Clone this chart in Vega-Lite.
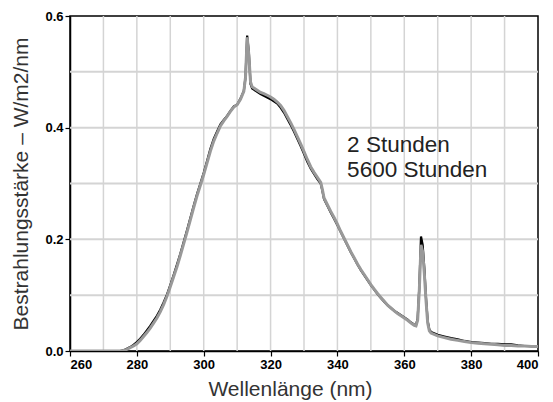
{
  "$schema": "https://vega.github.io/schema/vega-lite/v6.json",
  "width": 468,
  "height": 335,
  "autosize": {"type": "none"},
  "padding": {"left": 70, "top": 16, "right": 15, "bottom": 51},
  "background": "white",
  "config": {
    "view": {"stroke": "black", "strokeWidth": 1.5},
    "axis": {
      "grid": false,
      "labelFont": "Liberation Sans",
      "labelFontWeight": "bold",
      "labelFontSize": 13,
      "labelColor": "black",
      "titleFont": "Liberation Sans",
      "titleFontWeight": "normal",
      "titleFontSize": 21,
      "titleColor": "#333333",
      "domainColor": "black",
      "domainWidth": 1.5,
      "tickColor": "black",
      "tickSize": 5,
      "tickWidth": 1.2
    }
  },
  "datasets": {
    "gridx": [
      {"wl": 270}, {"wl": 280}, {"wl": 290}, {"wl": 300}, {"wl": 310}, {"wl": 320}, {"wl": 330},
      {"wl": 340}, {"wl": 350}, {"wl": 360}, {"wl": 370}, {"wl": 380}, {"wl": 390}
    ],
    "gridy": [
      {"lvl": 0.1}, {"lvl": 0.2}, {"lvl": 0.3}, {"lvl": 0.4}, {"lvl": 0.5}
    ],
    "spec": [
      {"wl": 260, "h2": 0, "h5600": 0},
      {"wl": 265, "h2": 0, "h5600": 0},
      {"wl": 270, "h2": 0, "h5600": 0},
      {"wl": 275, "h2": 0, "h5600": 0},
      {"wl": 276, "h2": 0.001, "h5600": 0.001},
      {"wl": 277, "h2": 0.004, "h5600": 0.003},
      {"wl": 278, "h2": 0.007, "h5600": 0.006},
      {"wl": 279, "h2": 0.011, "h5600": 0.009},
      {"wl": 280, "h2": 0.016, "h5600": 0.013},
      {"wl": 281, "h2": 0.022, "h5600": 0.019},
      {"wl": 282, "h2": 0.029, "h5600": 0.026},
      {"wl": 283, "h2": 0.037, "h5600": 0.033},
      {"wl": 284, "h2": 0.045, "h5600": 0.041},
      {"wl": 285, "h2": 0.054, "h5600": 0.05},
      {"wl": 286, "h2": 0.063, "h5600": 0.059},
      {"wl": 287, "h2": 0.074, "h5600": 0.07},
      {"wl": 288, "h2": 0.087, "h5600": 0.083},
      {"wl": 289, "h2": 0.101, "h5600": 0.098},
      {"wl": 290, "h2": 0.118, "h5600": 0.115},
      {"wl": 291, "h2": 0.136, "h5600": 0.133},
      {"wl": 292, "h2": 0.155, "h5600": 0.151},
      {"wl": 293, "h2": 0.174, "h5600": 0.171},
      {"wl": 294, "h2": 0.195, "h5600": 0.192},
      {"wl": 295, "h2": 0.216, "h5600": 0.213},
      {"wl": 296, "h2": 0.238, "h5600": 0.235},
      {"wl": 297, "h2": 0.26, "h5600": 0.257},
      {"wl": 298, "h2": 0.281, "h5600": 0.278},
      {"wl": 299, "h2": 0.3, "h5600": 0.297},
      {"wl": 300, "h2": 0.319, "h5600": 0.316},
      {"wl": 301, "h2": 0.34, "h5600": 0.337},
      {"wl": 302, "h2": 0.362, "h5600": 0.358},
      {"wl": 303, "h2": 0.38, "h5600": 0.376},
      {"wl": 304, "h2": 0.393, "h5600": 0.39},
      {"wl": 305, "h2": 0.406, "h5600": 0.403},
      {"wl": 306, "h2": 0.414, "h5600": 0.412},
      {"wl": 307, "h2": 0.421, "h5600": 0.42},
      {"wl": 308, "h2": 0.43, "h5600": 0.429},
      {"wl": 309, "h2": 0.438, "h5600": 0.437},
      {"wl": 310, "h2": 0.441, "h5600": 0.441},
      {"wl": 311, "h2": 0.452, "h5600": 0.451},
      {"wl": 312, "h2": 0.466, "h5600": 0.465},
      {"wl": 312.5, "h2": 0.49, "h5600": 0.49},
      {"wl": 313, "h2": 0.565, "h5600": 0.562},
      {"wl": 313.5, "h2": 0.535, "h5600": 0.53},
      {"wl": 314, "h2": 0.478, "h5600": 0.482},
      {"wl": 314.5, "h2": 0.47, "h5600": 0.473},
      {"wl": 315, "h2": 0.468, "h5600": 0.471},
      {"wl": 316, "h2": 0.464, "h5600": 0.467},
      {"wl": 317, "h2": 0.46, "h5600": 0.463},
      {"wl": 318, "h2": 0.457, "h5600": 0.461},
      {"wl": 319, "h2": 0.454, "h5600": 0.458},
      {"wl": 320, "h2": 0.451, "h5600": 0.455},
      {"wl": 321, "h2": 0.447, "h5600": 0.451},
      {"wl": 322, "h2": 0.443, "h5600": 0.446},
      {"wl": 323, "h2": 0.436, "h5600": 0.44},
      {"wl": 324, "h2": 0.427, "h5600": 0.431},
      {"wl": 325, "h2": 0.416, "h5600": 0.42},
      {"wl": 326, "h2": 0.405, "h5600": 0.409},
      {"wl": 327, "h2": 0.393, "h5600": 0.397},
      {"wl": 328, "h2": 0.38, "h5600": 0.384},
      {"wl": 329, "h2": 0.367, "h5600": 0.371},
      {"wl": 330, "h2": 0.353, "h5600": 0.357},
      {"wl": 331, "h2": 0.339, "h5600": 0.343},
      {"wl": 332, "h2": 0.327, "h5600": 0.33},
      {"wl": 333, "h2": 0.317, "h5600": 0.32},
      {"wl": 334, "h2": 0.308, "h5600": 0.311},
      {"wl": 335, "h2": 0.3, "h5600": 0.302},
      {"wl": 335.5, "h2": 0.287, "h5600": 0.289},
      {"wl": 336, "h2": 0.272, "h5600": 0.274},
      {"wl": 337, "h2": 0.26, "h5600": 0.262},
      {"wl": 338, "h2": 0.248, "h5600": 0.25},
      {"wl": 339, "h2": 0.237, "h5600": 0.239},
      {"wl": 340, "h2": 0.225, "h5600": 0.227},
      {"wl": 341, "h2": 0.213, "h5600": 0.214},
      {"wl": 342, "h2": 0.201, "h5600": 0.202},
      {"wl": 343, "h2": 0.189, "h5600": 0.19},
      {"wl": 344, "h2": 0.177, "h5600": 0.178},
      {"wl": 345, "h2": 0.166, "h5600": 0.167},
      {"wl": 346, "h2": 0.155, "h5600": 0.156},
      {"wl": 347, "h2": 0.145, "h5600": 0.146},
      {"wl": 348, "h2": 0.136, "h5600": 0.137},
      {"wl": 349, "h2": 0.127, "h5600": 0.128},
      {"wl": 350, "h2": 0.118, "h5600": 0.119},
      {"wl": 351, "h2": 0.11, "h5600": 0.111},
      {"wl": 352, "h2": 0.102, "h5600": 0.103},
      {"wl": 353, "h2": 0.095, "h5600": 0.096},
      {"wl": 354, "h2": 0.088, "h5600": 0.089},
      {"wl": 355, "h2": 0.082, "h5600": 0.082},
      {"wl": 356, "h2": 0.077, "h5600": 0.077},
      {"wl": 357, "h2": 0.072, "h5600": 0.072},
      {"wl": 358, "h2": 0.068, "h5600": 0.067},
      {"wl": 359, "h2": 0.064, "h5600": 0.063},
      {"wl": 360, "h2": 0.06, "h5600": 0.059},
      {"wl": 361, "h2": 0.056, "h5600": 0.055},
      {"wl": 362, "h2": 0.051, "h5600": 0.05},
      {"wl": 363, "h2": 0.047, "h5600": 0.046},
      {"wl": 363.5, "h2": 0.046, "h5600": 0.045},
      {"wl": 364, "h2": 0.058, "h5600": 0.055},
      {"wl": 364.5, "h2": 0.115, "h5600": 0.11},
      {"wl": 365, "h2": 0.205, "h5600": 0.19},
      {"wl": 365.5, "h2": 0.19, "h5600": 0.178},
      {"wl": 366, "h2": 0.148, "h5600": 0.138},
      {"wl": 366.5, "h2": 0.095, "h5600": 0.09},
      {"wl": 367, "h2": 0.054, "h5600": 0.05},
      {"wl": 367.5, "h2": 0.038, "h5600": 0.036},
      {"wl": 368, "h2": 0.034, "h5600": 0.032},
      {"wl": 370, "h2": 0.029, "h5600": 0.027},
      {"wl": 372, "h2": 0.026, "h5600": 0.024},
      {"wl": 374, "h2": 0.023, "h5600": 0.021},
      {"wl": 376, "h2": 0.021, "h5600": 0.019},
      {"wl": 378, "h2": 0.018, "h5600": 0.017},
      {"wl": 380, "h2": 0.016, "h5600": 0.015},
      {"wl": 382, "h2": 0.015, "h5600": 0.014},
      {"wl": 384, "h2": 0.014, "h5600": 0.013},
      {"wl": 386, "h2": 0.013, "h5600": 0.012},
      {"wl": 388, "h2": 0.013, "h5600": 0.011},
      {"wl": 390, "h2": 0.012, "h5600": 0.01},
      {"wl": 392, "h2": 0.012, "h5600": 0.01},
      {"wl": 394, "h2": 0.01, "h5600": 0.009},
      {"wl": 396, "h2": 0.009, "h5600": 0.009},
      {"wl": 398, "h2": 0.009, "h5600": 0.008},
      {"wl": 400, "h2": 0.009, "h5600": 0.008}
    ],
    "labels": [
      {"label": "2 Stunden", "wl": 342.9, "val": 0.357},
      {"label": "5600 Stunden", "wl": 342.9, "val": 0.312}
    ]
  },
  "layer": [
    {
      "data": {"name": "gridx"},
      "mark": {"type": "rule", "color": "#d4d4d4", "strokeWidth": 1.5},
      "encoding": {
        "x": {"field": "wl", "type": "quantitative"}
      }
    },
    {
      "data": {"name": "gridy"},
      "mark": {"type": "rule", "color": "#d4d4d4", "strokeWidth": 2},
      "encoding": {
        "y": {"field": "lvl", "type": "quantitative"},
        "x": {"datum": 260, "type": "quantitative"},
        "x2": {"datum": 400}
      }
    },
    {
      "data": {"name": "spec"},
      "mark": {"type": "line", "color": "black", "strokeWidth": 2.2, "clip": true},
      "encoding": {
        "x": {
          "field": "wl",
          "type": "quantitative",
          "scale": {"domain": [260, 400], "nice": false, "zero": false},
          "axis": {
            "title": "Wellenlänge (nm)",
            "values": [260, 280, 300, 320, 340, 360, 380, 400],
            "labelPadding": 2,
            "titlePadding": 7,
            "titleX": 220
          }
        },
        "y": {
          "field": "h2",
          "type": "quantitative",
          "scale": {"domain": [0, 0.6], "nice": false},
          "axis": {
            "title": "Bestrahlungsstärke – W/m2/nm",
            "values": [0, 0.2, 0.4, 0.6],
            "format": ".1f",
            "labelPadding": 2,
            "titlePadding": 13
          }
        }
      }
    },
    {
      "data": {"name": "spec"},
      "mark": {"type": "line", "color": "#999999", "strokeWidth": 3, "clip": true},
      "encoding": {
        "x": {"field": "wl", "type": "quantitative"},
        "y": {"field": "h5600", "type": "quantitative"}
      }
    },
    {
      "data": {"name": "labels"},
      "mark": {"type": "text", "align": "left", "baseline": "alphabetic", "font": "Liberation Sans", "fontSize": 22.5, "color": "#222222"},
      "encoding": {
        "x": {"field": "wl", "type": "quantitative"},
        "y": {"field": "val", "type": "quantitative"},
        "text": {"field": "label"}
      }
    }
  ]
}
